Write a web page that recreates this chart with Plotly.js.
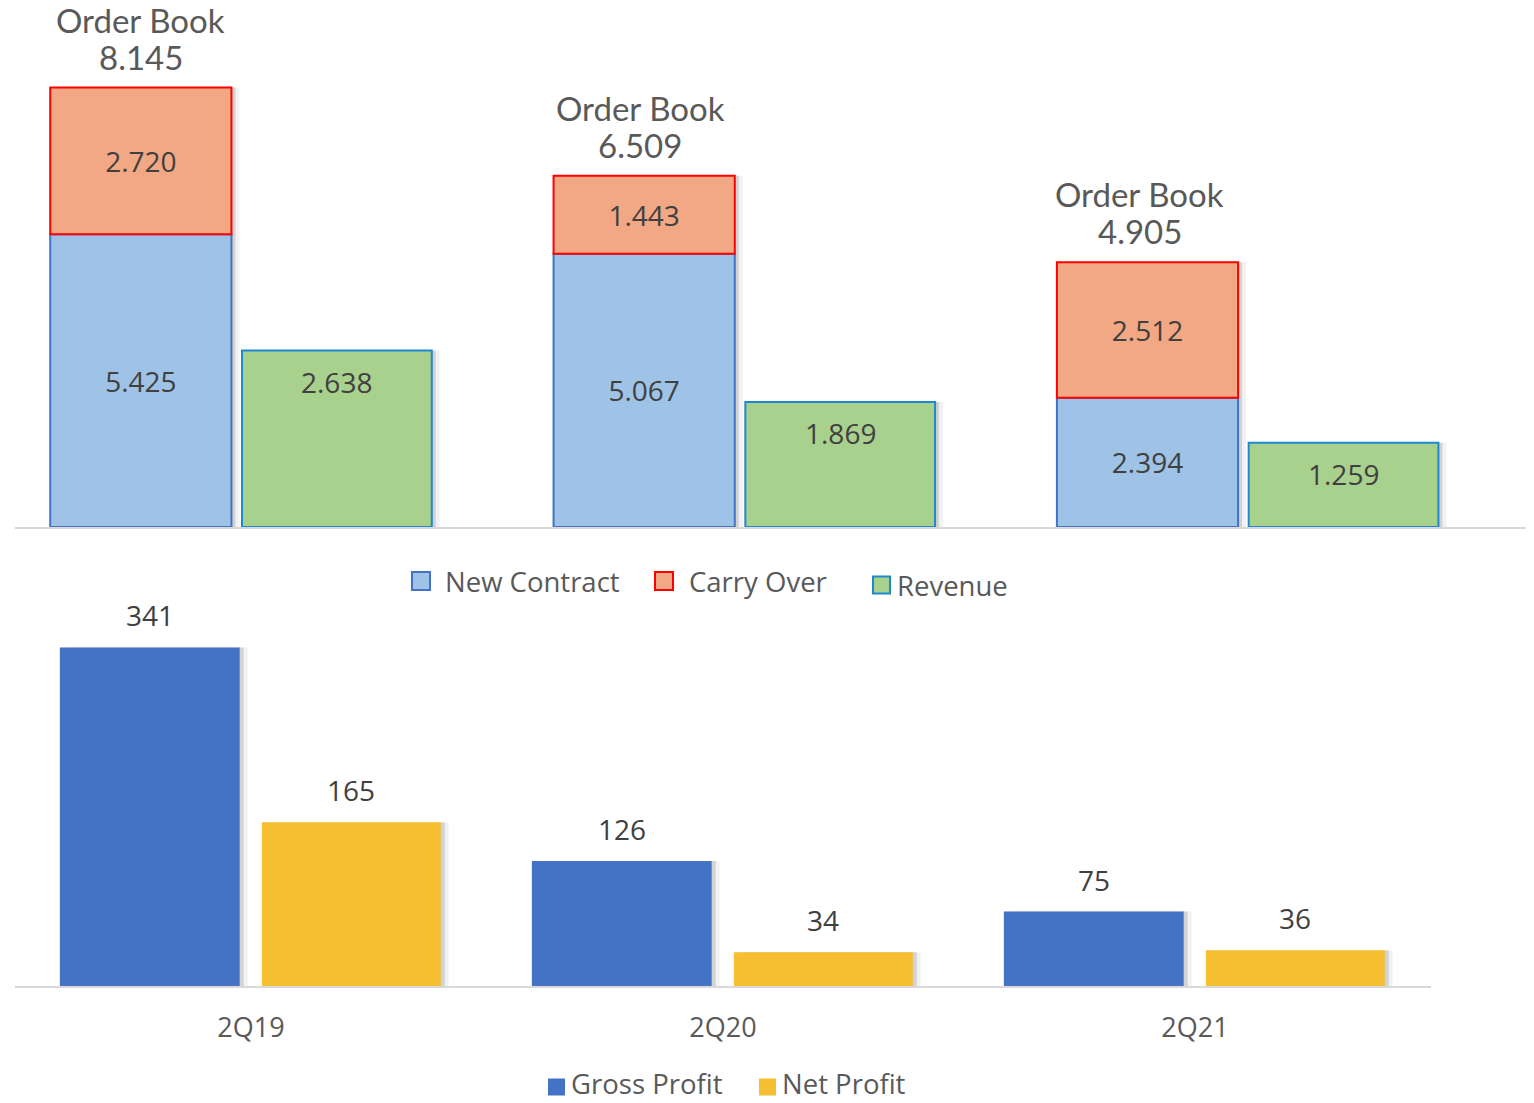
<!DOCTYPE html>
<html>
<head>
<meta charset="utf-8">
<script src="https://cdn.plot.ly/plotly-3.0.1.min.js"></script>
<style>
  html, body { margin: 0; padding: 0; background: #fff; }
  #chart { width: 1534px; height: 1103px; }
</style>
</head>
<body>
<div id="chart"></div>
<script>
const periods = ["2Q19", "2Q20", "2Q21"];
const newContract = [5.425, 5.067, 2.394];
const carryOver = [2.720, 1.443, 2.512];
const orderBook = [8.145, 6.509, 4.905];
const revenue = [2.638, 1.869, 1.259];
const grossProfit = [341, 126, 75];
const netProfit = [165, 34, 36];

const W = 1534, H = 1103;
const px = x => x / W;
const py = y => 1 - y / H;

const labelFont = { family: "Open Sans, sans-serif", size: 28, color: "#404040" };
const titleFont = { family: "Lato, sans-serif", size: 33, color: "#595959" };
const legendFont = { family: "Open Sans, sans-serif", size: 27.5, color: "#595959" };

// bar geometry in category units
const topUnit = 503.4, botUnit = 472;
const stackOff = -0.375, stackW = 0.36;
const revOff = 0.006, revW = 0.377;
const grossOff = -0.405, grossW = 0.381;
const netOff = 0.023, netW = 0.379;

const fmt = v => v.toFixed(3);

// soft drop shadow to the right of every bar
function shadow(y, xaxis, yaxis, off, w, unit) {
    return [[4, 0.13], [8, 0.05]].map(([d, a]) => ({
        x: periods, y: y, type: "bar", xaxis: xaxis, yaxis: yaxis,
        offset: off + d / unit, width: w, hoverinfo: "skip",
        marker: { color: `rgba(0,0,0,${a})`, line: { width: 0 } }
    }));
}

const traces = [
    ...shadow(orderBook, "x", "y", stackOff, stackW, topUnit),
    ...shadow(revenue, "x", "y2", revOff, revW, topUnit),
    ...shadow(grossProfit, "x2", "y3", grossOff, grossW, botUnit),
    ...shadow(netProfit, "x2", "y3", netOff, netW, botUnit),
    {
        x: periods, y: newContract, type: "bar", name: "New Contract",
        xaxis: "x", yaxis: "y", offset: stackOff, width: stackW,
        marker: { color: "#9EC3E6", line: { color: "#4472C4", width: 2 } },
        text: newContract.map(fmt), textposition: "inside", insidetextanchor: "middle",
        textfont: labelFont, hoverinfo: "skip"
    },
    {
        x: periods, y: carryOver, base: newContract, type: "bar", name: "Carry Over",
        xaxis: "x", yaxis: "y", offset: stackOff, width: stackW,
        marker: { color: "#F2A884", line: { color: "#FF0000", width: 2 } },
        text: carryOver.map(fmt), textposition: "inside", insidetextanchor: "middle",
        textfont: labelFont, hoverinfo: "skip"
    },
    {
        x: periods, y: revenue, type: "bar", name: "Revenue",
        xaxis: "x", yaxis: "y2", offset: revOff, width: revW,
        marker: { color: "#A9D18E", line: { color: "#1E88D0", width: 2 } },
        hoverinfo: "skip"
    },
    {
        x: periods, y: grossProfit, type: "bar", name: "Gross Profit",
        xaxis: "x2", yaxis: "y3", offset: grossOff, width: grossW,
        marker: { color: "#4472C4" }, hoverinfo: "skip"
    },
    {
        x: periods, y: netProfit, type: "bar", name: "Net Profit",
        xaxis: "x2", yaxis: "y3", offset: netOff, width: netW,
        marker: { color: "#F6BF32" }, hoverinfo: "skip"
    }
];

const annotations = [];
const shapes = [];

periods.forEach((p, i) => {
    const sx = i + stackOff + stackW / 2;
    annotations.push({
        x: sx, y: orderBook[i], xref: "x", yref: "y", yshift: 68, xshift: -4 * i,
        text: "Order Book", showarrow: false, font: titleFont, yanchor: "middle"
    });
    annotations.push({
        x: sx, y: orderBook[i], xref: "x", yref: "y", yshift: 31, xshift: -4 * i,
        text: fmt(orderBook[i]), showarrow: false, font: titleFont, yanchor: "middle"
    });
    annotations.push({
        x: i + revOff + revW / 2, y: revenue[i], xref: "x", yref: "y2", yshift: -31,
        text: fmt(revenue[i]), showarrow: false, font: labelFont, yanchor: "middle"
    });
    annotations.push({
        x: i + grossOff + grossW / 2, y: grossProfit[i], xref: "x2", yref: "y3", yshift: 32,
        text: String(grossProfit[i]), showarrow: false, font: labelFont, yanchor: "middle"
    });
    annotations.push({
        x: i + netOff + netW / 2, y: netProfit[i], xref: "x2", yref: "y3", yshift: 32,
        text: String(netProfit[i]), showarrow: false, font: labelFont, yanchor: "middle"
    });
});

// hand-drawn legends (square swatch + label)
function legendItem(label, fill, line, x, y, size, gap, textY) {
    shapes.push({
        type: "rect", xref: "paper", yref: "paper",
        x0: px(x), x1: px(x + size), y0: py(y + size / 2), y1: py(y - size / 2),
        fillcolor: fill, line: { color: line || fill, width: line ? 2 : 0 }
    });
    annotations.push({
        x: px(x + size + gap), y: py(textY || y), xref: "paper", yref: "paper",
        xanchor: "left", yanchor: "middle", text: label, showarrow: false,
        font: legendFont, borderpad: 0
    });
}
legendItem("New Contract", "#9EC3E6", "#4472C4", 412, 581, 18, 14);
legendItem("Carry Over", "#F2A884", "#FF0000", 655, 581, 18, 15);
legendItem("Revenue", "#A9D18E", "#1E88D0", 873, 585, 17, 6);
legendItem("Gross Profit", "#4472C4", null, 548, 1087, 17, 5, 1083);
legendItem("Net Profit", "#F6BF32", null, 759, 1087, 17, 5, 1083);

const hidden = { showgrid: false, zeroline: false, showticklabels: false, ticks: "" };

const layout = {
    width: W, height: H,
    margin: { l: 0, r: 0, t: 0, b: 0 },
    paper_bgcolor: "#ffffff", plot_bgcolor: "rgba(0,0,0,0)",
    barmode: "overlay",
    showlegend: false,
    xaxis: {
        domain: [px(15), px(1526)], anchor: "y", type: "category",
        range: [-0.445, 2.557], showline: true, linecolor: "#D9D9D9", linewidth: 2,
        showgrid: false, showticklabels: false, ticks: ""
    },
    yaxis: Object.assign({ domain: [py(527), 1], range: [0, 9.768], anchor: "x" }, hidden),
    yaxis2: Object.assign({ overlaying: "y", range: [0, 7.877], anchor: "x", side: "right" }, hidden),
    xaxis2: {
        domain: [px(15), px(1431)], anchor: "y3", type: "category",
        range: [-0.5, 2.5], showline: true, linecolor: "#D9D9D9", linewidth: 2,
        showgrid: false, ticks: "", ticklabelstandoff: 17,
        tickfont: { family: "Open Sans, sans-serif", size: 27, color: "#595959" }
    },
    yaxis3: Object.assign({ domain: [py(986), py(560)], range: [0, 429], anchor: "x2" }, hidden),
    annotations: annotations,
    shapes: shapes
};

Plotly.newPlot("chart", traces, layout, { displayModeBar: false, staticPlot: true });
</script>
</body>
</html>
